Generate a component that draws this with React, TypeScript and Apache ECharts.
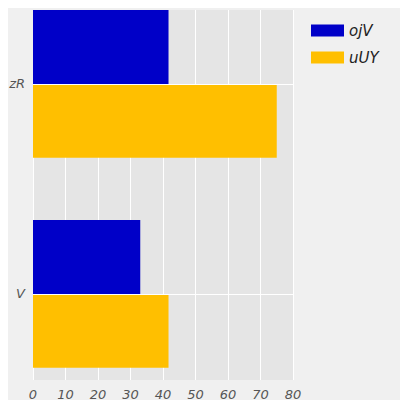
import React, { useEffect, useRef } from "react";
import * as echarts from "echarts";

const categories = ["V", "zR"];
const ojV = [33, 41.7];
const uUY = [41.7, 75];
const xTicks = [0, 10, 20, 30, 40, 50, 60, 70, 80];
const barUnits = 0.352;

function makeRender(side: number) {
  return (params: any, api: any) => {
    const v = api.value(0);
    const y = api.value(1);
    const p0 = api.coord([0, y]);
    const p1 = api.coord([v, y + side * barUnits]);
    return {
      type: "rect",
      shape: { x: p0[0], y: Math.min(p0[1], p1[1]), width: p1[0] - p0[0], height: Math.abs(p1[1] - p0[1]) },
      style: { fill: api.visual("color") },
    };
  };
}

export default function App() {
  const ref = useRef<HTMLDivElement>(null);
  useEffect(() => {
    const chart = echarts.init(ref.current!, null, { renderer: "svg" });
    const lbl = { fontStyle: "italic", color: "#555", fontSize: 13, fontFamily: "DejaVu Sans" };
    chart.setOption({
      animation: false,
      backgroundColor: "#f0f0f0",
      grid: { left: 33, right: 115, top: 10, bottom: 28, backgroundColor: "#e5e5e5", show: true, borderWidth: 0 },
      legend: {
        orient: "vertical", left: 306, top: 18, itemWidth: 33, itemHeight: 12, itemGap: 12,
        icon: "rect",
        data: ["ojV", "uUY"],
        textStyle: { fontStyle: "italic", fontSize: 15, color: "#222", fontFamily: "DejaVu Sans" },
      },
      xAxis: {
        type: "value", min: xTicks[0], max: xTicks[xTicks.length - 1], interval: 10,
        axisLine: { show: false }, axisTick: { show: false },
        splitLine: { lineStyle: { color: "#ffffff", width: 1 } },
        axisLabel: lbl,
      },
      yAxis: {
        type: "value", min: -0.41, max: 1.352,
        axisLine: { show: false }, axisTick: { show: false }, splitLine: { show: false },
        axisLabel: { ...lbl, customValues: [0, 1], formatter: (v: number) => categories[Math.round(v)] },
      },
      series: [
        {
          name: "ojV", type: "custom", renderItem: makeRender(1), itemStyle: { color: "#0000c8" },
          data: ojV.map((v, i) => [v, i]), encode: { x: 0, y: 1 }, z: 3,
        },
        {
          name: "uUY", type: "custom", renderItem: makeRender(-1), itemStyle: { color: "#ffbf00" },
          data: uUY.map((v, i) => [v, i]), encode: { x: 0, y: 1 }, z: 3,
        },
        {
          name: "lines", type: "line", data: [], silent: true,
          markLine: {
            silent: true, symbol: "none", label: { show: false },
            lineStyle: { color: "#ffffff", width: 1, type: "solid" },
            data: categories.map((_, i) => ({ yAxis: i })),
          },
          z: 1,
        },
      ],
    });
    return () => chart.dispose();
  }, []);
  return <div ref={ref} style={{ width: 408, height: 408, margin: -8 }} />;
}
